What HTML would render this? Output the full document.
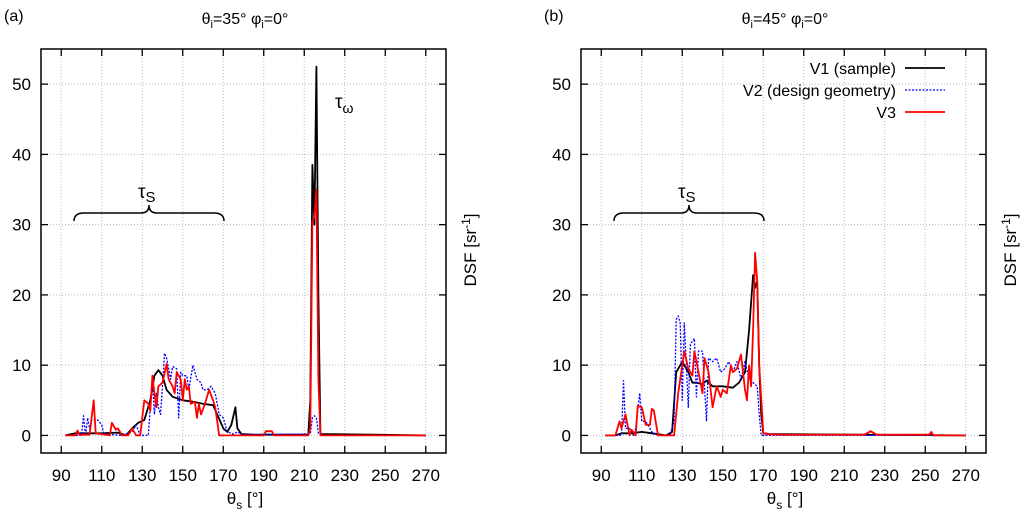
<!DOCTYPE html>
<html><head><meta charset="utf-8"><style>
body{margin:0;background:#fff}
svg{display:block;font-family:"Liberation Sans",sans-serif}
</style></head><body>
<svg id="chart" width="1024" height="520" viewBox="0 0 1024 520" xmlns="http://www.w3.org/2000/svg"></svg>
<script>
const xTicks=[90,110,130,150,170,190,210,230,250,270];
const yTicks=[0,10,20,30,40,50];
const seriesNames=["V1 (sample)","V2 (design geometry)","V3"];
// Panel a
const aV1x=[92,97,110,118,122,125,128,131,134,136,138,140,142,145,150,155,160,165,167,170,172,174,176,177,179,185,212,213,214,215,216,217,218,270];
const aV1y=[0,0.3,0.3,0.4,0,1,1.8,2.2,5,8.5,9.3,8.5,6.5,5.5,5,4.8,4.5,4.3,3,1,0.5,1.5,4,1,0.2,0.1,0.1,5,38.5,30,52.5,20,0.2,0];
const aV2x=[92,100,101,102,103,104,105,108,110,111,115,120,125,127,129,133,134,135,136,137,138,139,140,141,142,144,145,147,148,149,150,152,153,155,157,159,160,162,164,166,168,170,172,175,177,180,213,214,215,216,217,220,270];
const aV2y=[0,0,2.8,0,2.5,1,2.2,2.2,1.5,0.2,0.1,0,0.5,1.5,0,0,4,8,3,6,4,3,7,11.7,11,8,9.8,9.5,2.5,9,8.5,8.5,6.5,10,8,7.5,6.5,6.5,7,6,3,2.5,0.5,0.2,0.5,0.1,0.2,2.5,2.8,2.5,0.3,0,0];
const aV3x=[92,97,98,99,104,106,107,114,115,117,118,120,123,125,127,129,131,133,134,135,136,137,138,140,142,143,145,146,147,149,150,151,152,153,154,156,157,158,159,161,163,165,166,168,180,190,191,194,195,212,213,214,215,216,217,218,270];
const aV3y=[0,0,0.7,0.1,0.1,5,0.3,0,1.8,0.8,1,0,0,1,0,0,5,4.5,3.5,8.5,6,4,7,7.5,10.2,8,7,6,9,8,5,8,6.5,7,4.5,4.8,2.5,4.5,3,4.5,6.5,5,4,0,0,0,0.6,0.6,0,0,1,30.5,31,35,8,0,0];
// Panel b
const bV1x=[92,97,100,105,110,115,122,125,127,130,133,135,137,140,142,145,150,155,158,161,163,165,166,167,168,169,170,173,270];
const bV1y=[0,0,0.3,0.3,0.5,0.3,0,0.5,9,10.5,9,7.5,7.5,7.3,7.8,7,7,6.8,7.5,9,15,22.8,21,22,10,3,0.3,0.2,0];
const bV2x=[92,100,101,102,104,106,107,109,110,112,115,118,124,126,127,128,129,130,131,132,133,134,136,137,138,140,142,143,145,147,149,151,153,155,157,159,161,163,165,167,168,169,170,270];
const bV2y=[0,0,7.8,1,1,0,1,6,2,2,0.5,0,0,2,16.5,17,16,5,16,10,4,13,13.8,5.5,12,12,2,11,10.5,11,9,9.5,10.5,9,10.5,8,10.5,8,7.5,7,3,0,0,0];
const bV3x=[92,97,99,100,102,104,105,107,108,110,112,114,115,116,118,125,126,128,130,131,133,135,136,138,140,141,143,145,147,149,150,152,154,155,157,159,161,162,163,164,165,166,167,168,170,175,220,223,226,252,253,254,270];
const bV3y=[0,0,2,1,3,0,0.8,0,4.2,4,1.5,1.5,3.8,3.5,0,0,0,6,10,12,9.5,8.5,12,9,6,11,9,4,7,5.5,6.5,6,10,9,9.5,11.5,6.5,5,10,7,15,26,22,10,0.3,0.1,0.1,0.6,0.1,0.1,0.5,0,0];

const NS="http://www.w3.org/2000/svg";
const svg=document.getElementById('chart');
function mk(tag,attrs,parent,text){const e=document.createElementNS(NS,tag);for(const k in attrs)e.setAttribute(k,attrs[k]);if(text!==undefined)e.textContent=text;(parent||svg).appendChild(e);return e;}
function ts(parent,txt,size,dy){const e=mk('tspan',{},parent,txt);if(size)e.setAttribute('font-size',size);if(dy)e.setAttribute('dy',dy);return e;}
const L=41,R=446,T=49,B=453,X0=80,X1=280,Y0=-2.5,Y1=55;
function sx(v,off){return off+L+(v-X0)*(R-L)/(X1-X0);}
function sy(v){return B-(v-Y0)*(B-T)/(Y1-Y0);}
const colors=["#000","#00f","#f00"];
function panel(off,id,title,data){
  const g=mk('g',{});
  
  
  xTicks.forEach(t=>{const l=mk('line',{x1:sx(t,off),x2:sx(t,off),y1:T,y2:B,stroke:'#bbb','stroke-dasharray':'1,2'},g);
    
    mk('line',{x1:sx(t,off),x2:sx(t,off),y1:B,y2:B-7,stroke:'#000','stroke-width':1.3},g);
    mk('line',{x1:sx(t,off),x2:sx(t,off),y1:T,y2:T+7,stroke:'#000','stroke-width':1.3},g);
    const tx=mk('text',{x:sx(t,off),y:481,'text-anchor':'middle','font-size':17},g,String(t));
    });
  yTicks.forEach(t=>{const l=mk('line',{x1:off+L,x2:off+R,y1:sy(t),y2:sy(t),stroke:'#bbb','stroke-dasharray':'1,2'},g);
    
    mk('line',{x1:off+L,x2:off+L+7,y1:sy(t),y2:sy(t),stroke:'#000','stroke-width':1.3},g);
    mk('line',{x1:off+R,x2:off+R-7,y1:sy(t),y2:sy(t),stroke:'#000','stroke-width':1.3},g);
    const tx=mk('text',{x:off+31,y:sy(t)+6,'text-anchor':'end','font-size':17},g,String(t));
    });
  data.forEach((d,i)=>{const pts=d[0].map((x,j)=>sx(x,off).toFixed(1)+','+sy(d[1][j]).toFixed(1)).join(' ');
    const p=mk('polyline',{points:pts,fill:'none',stroke:colors[i],'stroke-width':i==1?1.3:1.8,'stroke-dasharray':i==1?'2,1.5':'none','stroke-linejoin':'round'},g);
    });
  const fr=mk('rect',{x:off+L,y:T,width:R-L,height:B-T,fill:'none',stroke:'#000','stroke-width':1.5},g);
  
  const pl=mk('text',{x:off+4,y:21,'font-size':16},g,'('+id+')');
  
  const tt=mk('text',{x:off+245,y:24,'text-anchor':'middle','font-size':16},g);
  
  ts(tt,'θ');ts(tt,'i',11,4);ts(tt,'='+title+'° φ',null,-4);ts(tt,'i',11,4);ts(tt,'=0°',null,-4);
  const xl=mk('text',{x:off+245,y:504,'text-anchor':'middle','font-size':17},g);
  
  ts(xl,'θ');ts(xl,'s',12,5);ts(xl,' [°]',null,-5);
  const yl=mk('text',{x:0,y:0,'text-anchor':'middle','font-size':17,transform:'translate('+(off+476)+',250) rotate(-90)'},g);
  
  ts(yl,'DSF [sr');ts(yl,'-1',12,-6);ts(yl,']',null,6);
  return g;
}
const ga=panel(0,'a','35',[[aV1x,aV1y],[aV2x,aV2y],[aV3x,aV3y]]);
const gb=panel(540,'b','45',[[bV1x,bV1y],[bV2x,bV2y],[bV3x,bV3y]]);
function brace(g,x1,x2,y){const m=(x1+x2)/2;
  const p=mk('path',{d:`M${x1},${y+8} Q${x1},${y} ${x1+10},${y} L${m-8},${y} Q${m},${y} ${m},${y-8} Q${m},${y} ${m+8},${y} L${x2-10},${y} Q${x2},${y} ${x2},${y+8}`,fill:'none',stroke:'#000','stroke-width':1.5},g);
  
  const t=mk('text',{x:m-11,y:y-15,'font-size':19},g);
  
  ts(t,'τ');ts(t,'S',15,4);}
brace(ga,74,224,213);
brace(gb,614,764,213);
const tw=mk('text',{x:335,y:108,'font-size':19},ga);

ts(tw,'τ');ts(tw,'ω',14,5);
seriesNames.forEach((n,i)=>{const y=68+i*22;
  const t=mk('text',{x:896,y:y+6,'text-anchor':'end','font-size':16},gb,n);
  
  const l=mk('line',{x1:905,x2:945,y1:y,y2:y,stroke:colors[i],'stroke-width':i==1?1.3:1.8,'stroke-dasharray':i==1?'2,1.5':'none'},gb);
  });
</script>
</body></html>
